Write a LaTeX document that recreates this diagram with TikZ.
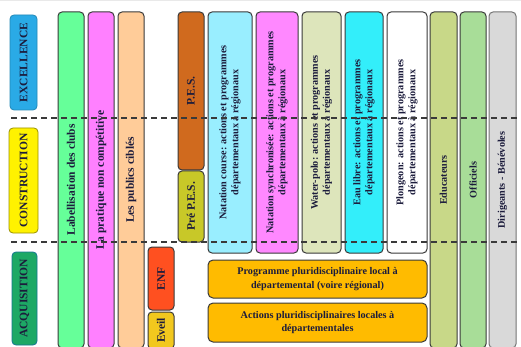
\documentclass[tikz,border=0pt]{standalone}
\usepackage{fontspec}
\setmainfont{Liberation Serif}
\definecolor{bgrid}{HTML}{E9E9E9}
\definecolor{linec}{HTML}{3A3A3A}
\definecolor{txt}{HTML}{1C1C3C}
\definecolor{cexc}{HTML}{2AAAE6}
\definecolor{ccons}{HTML}{FFF200}
\definecolor{cacq}{HTML}{1DA865}
\definecolor{clab}{HTML}{66FF99}
\definecolor{cprat}{HTML}{FF80FF}
\definecolor{cpub}{HTML}{FFCC99}
\definecolor{cpes}{HTML}{D06A1E}
\definecolor{cprepes}{HTML}{C8C828}
\definecolor{cenf}{HTML}{FF5020}
\definecolor{ceveil}{HTML}{F2C81E}
\definecolor{cnc}{HTML}{99EEFF}
\definecolor{cns}{HTML}{FF88FF}
\definecolor{cwp}{HTML}{DDE5BB}
\definecolor{cel}{HTML}{33EEFA}
\definecolor{cplo}{HTML}{FFFFFF}
\definecolor{cedu}{HTML}{C8D888}
\definecolor{coff}{HTML}{A8DD98}
\definecolor{cdir}{HTML}{D9D9D9}
\definecolor{cprog}{HTML}{FFBB00}
\tikzset{
  vbox/.style={draw=linec, line width=1pt, rounded corners=4pt, rotate=90,
    inner sep=0pt, text=txt, align=center,
    font=\bfseries\fontsize{11.5}{13}\selectfont},
  vsmall/.style={vbox, font=\bfseries\fontsize{10.2}{12}\selectfont},
  hbox/.style={draw=linec, line width=1pt, rounded corners=5pt,
    inner sep=0pt, text=txt, align=center,
    font=\bfseries\fontsize{10.2}{13.5}\selectfont},
  phase/.style={vbox, line width=0.8pt},
  sep/.style={draw=linec, line width=1.4pt, dash pattern=on 6pt off 4pt}
}
\begin{document}
\begin{tikzpicture}[x=1pt,y=-1pt]
\useasboundingbox (0,0) rectangle (521,347);
\clip (0,0) rectangle (521,347);
\fill[white] (0,0) rectangle (521,347);
\draw[bgrid, line width=0.4pt, step=12.5pt] (0,0) grid (521,-347);
% phases
\node[phase, draw=cexc!80!black, fill=cexc, minimum width=95, minimum height=27] (exc) at (23.5,62.5) {EXCELLENCE};
\node[phase, draw=ccons!60!black, fill=ccons, minimum width=105, minimum height=29] (cons) at (23.5,180.5) {CONSTRUCTION};
\node[phase, draw=cacq!70!blue, fill=cacq, minimum width=93, minimum height=25] (acq) at (24.5,298.5) {ACQUISITION};
% long columns
\node[vbox, fill=clab, minimum width=336, minimum height=26] (lab) at (71,180) {Labellisation des clubs};
\node[vbox, fill=cprat, minimum width=336, minimum height=26] (prat) at (101,180) {La pratique non compétitive};
\node[vbox, fill=cpub, minimum width=336, minimum height=26] (pub) at (131,180) {Les publics ciblés};
% ENF / Eveil
\node[vbox, fill=cenf, minimum width=63, minimum height=26] (enf) at (161,278.5) {ENF};
\node[vbox, fill=ceveil, minimum width=37, minimum height=26] (eveil) at (161,330.5) {Eveil};
% PES
\node[vbox, fill=cpes, minimum width=158, minimum height=26] (pes) at (191,91) {P.E.S.};
\node[vbox, fill=cprepes, minimum width=71, minimum height=26] (prepes) at (191,206.5) {Pré P.E.S.};
% disciplines
\node[vsmall, fill=cnc, minimum width=241, minimum height=44] (nc) at (230,132.5) {Natation course: actions et programmes\\départementaux à régionaux};
\node[vsmall, fill=cns, minimum width=241, minimum height=42] (ns) at (277,132.5) {Natation synchronisée: actions et programmes\\départementaux à régionaux};
\node[vsmall, fill=cwp, minimum width=241, minimum height=39] (wp) at (321.5,132.5) {Water-polo: actions et programmes\\départementaux à régionaux};
\node[vsmall, fill=cel, minimum width=241, minimum height=38] (el) at (364,132.5) {Eau libre: actions et programmes\\départementaux à régionaux};
\node[vsmall, fill=cplo, minimum width=241, minimum height=40] (plo) at (407,132.5) {Plongeon: actions et programmes\\départementaux à régionaux};
% staff columns
\node[vsmall, fill=cedu, minimum width=336, minimum height=27] (edu) at (443.5,180) {Educateurs};
\node[vsmall, fill=coff, minimum width=336, minimum height=26] (off) at (473,180) {Officiels};
\node[vsmall, draw=linec!70, fill=cdir, minimum width=336, minimum height=27] (dir) at (502.5,180) {Dirigeants - Bénévoles};
% horizontal programmes
\node[hbox, fill=cprog, minimum width=219, minimum height=38] (prog) at (317.5,279) {Programme pluridisciplinaire local à\\départemental (voire régional)};
\node[hbox, fill=cprog, minimum width=219, minimum height=39] (act) at (317.5,322.5) {Actions pluridisciplinaires locales à\\départementales};
% separators
\coordinate (s1a) at (11,118);
\coordinate (s1b) at (521,118);
\coordinate (s2a) at (11,242);
\coordinate (s2b) at (521,242);
\draw[sep] (s1a) -- (s1b);
\draw[sep] (s2a) -- (s2b);
\end{tikzpicture}
\end{document}
